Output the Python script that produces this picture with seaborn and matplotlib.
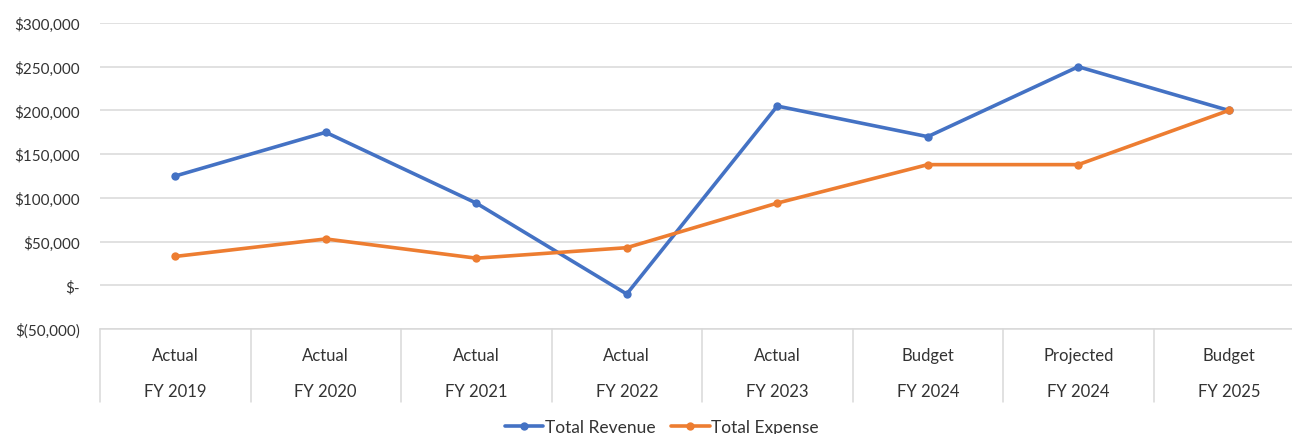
import matplotlib
matplotlib.use("Agg")
import matplotlib.pyplot as plt
import matplotlib.ticker as mticker
import seaborn as sns
import pandas as pd

# Fiscal-year categories (two-level labels: scenario over fiscal year)
scenarios = ["Actual", "Actual", "Actual", "Actual", "Actual", "Budget", "Projected", "Budget"]
fiscal_years = ["FY 2019", "FY 2020", "FY 2021", "FY 2022", "FY 2023", "FY 2024", "FY 2024", "FY 2025"]

# Series values in dollars
total_revenue = [125000, 175000, 94000, -10000, 205000, 170000, 250000, 200000]
total_expense = [33000, 53000, 31000, 43000, 94000, 138000, 138000, 200000]

y_ticks = [-50000, 0, 50000, 100000, 150000, 200000, 250000, 300000]

sns.set_theme(style="white")
plt.rcParams["font.family"] = ["Lato", "DejaVu Sans"]

text_color = "#333333"
grid_color = "#D9D9D9"
blue = "#4472C4"
orange = "#ED7D31"

n = len(fiscal_years)
df = pd.DataFrame({
    "idx": list(range(n)) * 2,
    "value": total_revenue + total_expense,
    "series": ["Total Revenue"] * n + ["Total Expense"] * n,
})

fig = plt.figure(figsize=(12.92, 4.35), dpi=100)
ax = fig.add_axes([100 / 1292, 105 / 435, 1204 / 1292, 306 / 435])

sns.lineplot(
    data=df, x="idx", y="value", hue="series",
    palette={"Total Revenue": blue, "Total Expense": orange},
    marker="o", markersize=6, markeredgewidth=0, linewidth=2.6,
    ax=ax, legend=False,
)

ax.set_xlim(-0.5, n - 0.5)
ax.set_ylim(y_ticks[0], y_ticks[-1])
ax.set_yticks(y_ticks)


def dollar_fmt(v, _pos):
    if v == 0:
        return "$-"
    if v < 0:
        return f"$({abs(v):,.0f})"
    return f"${v:,.0f}"


ax.yaxis.set_major_formatter(mticker.FuncFormatter(dollar_fmt))
ax.tick_params(axis="y", length=0, pad=14.5, labelsize=11, labelcolor=text_color)
ax.set_xticks([])
ax.set_xlabel("")
ax.set_ylabel("")

ax.grid(axis="y", color=grid_color, linewidth=1.1)
ax.set_axisbelow(True)
for side in ["left", "right", "top"]:
    ax.spines[side].set_visible(False)
ax.spines["bottom"].set_color(grid_color)
ax.spines["bottom"].set_linewidth(1.1)

# Two-level category axis with divider lines
trans = ax.get_xaxis_transform()
divider_depth = -73 / 306
for i in range(n + 1):
    ax.plot([i - 0.5, i - 0.5], [0, divider_depth], transform=trans,
            color=grid_color, linewidth=1.1, clip_on=False)
for i, (sc, fy) in enumerate(zip(scenarios, fiscal_years)):
    ax.text(i, -26 / 306, sc, transform=trans, ha="center", va="center",
            fontsize=12, color=text_color)
    ax.text(i, -62 / 306, fy, transform=trans, ha="center", va="center",
            fontsize=12, color=text_color)

handles = [
    plt.Line2D([], [], color=blue, marker="o", markersize=6, markeredgewidth=0, linewidth=2.6),
    plt.Line2D([], [], color=orange, marker="o", markersize=6, markeredgewidth=0, linewidth=2.6),
]
fig.legend(handles, ["Total Revenue", "Total Expense"], loc="center",
           bbox_to_anchor=(662 / 1292, 7 / 435), ncol=2, frameon=False,
           fontsize=12.5, handlelength=2.2, handletextpad=0.1, columnspacing=0.9,
           labelcolor=text_color, borderpad=0.1)

fig.savefig("out.png", dpi=100, facecolor="white")
